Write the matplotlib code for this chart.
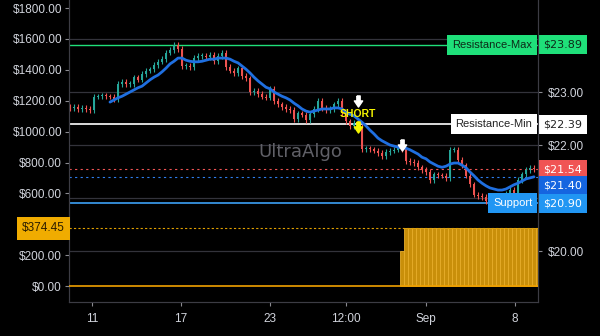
import matplotlib
matplotlib.use("Agg")
import matplotlib.pyplot as plt
from matplotlib.path import Path
import numpy as np

plt.rcParams["font.family"] = ["Liberation Sans", "DejaVu Sans"]

# price candles (close), one bar per slot
closes = [
    22.70, 22.72, 22.68, 22.70, 22.68, 22.66, 22.91, 22.92, 22.94, 22.92,
    22.91, 22.87, 23.15, 23.19, 23.15, 23.15, 23.28, 23.23, 23.34, 23.40,
    23.43, 23.51, 23.57, 23.62, 23.74, 23.79, 23.89, 23.81, 23.49, 23.49,
    23.47, 23.64, 23.68, 23.68, 23.66, 23.70, 23.58, 23.68, 23.74, 23.47,
    23.40, 23.36, 23.45, 23.30, 23.26, 23.00, 23.02, 22.96, 22.91, 22.89,
    23.06, 22.83, 22.77, 22.72, 22.68, 22.66, 22.49, 22.60, 22.57, 22.47,
    22.58, 22.68, 22.83, 22.70, 22.66, 22.68, 22.77, 22.83, 22.60, 22.45,
    22.36, 22.42, 22.34, 21.92, 21.94, 21.92, 21.89, 21.85, 21.79, 21.87,
    21.89, 21.91, 21.94, 21.92, 21.70, 21.68, 21.66, 21.58, 21.53, 21.49,
    21.34, 21.45, 21.43, 21.42, 21.38, 21.91, 21.91, 21.72, 21.62, 21.42,
    21.26, 21.06, 21.04, 21.02, 20.94, 20.92, 20.98, 21.00, 21.04, 21.08,
    21.15, 21.04, 21.34, 21.45, 21.53, 21.57, 21.54]
first_open = 22.72
wick = 0.05

# moving average, starts at bar 10
ma_start = 10
ma = [
    22.81, 22.85, 22.89, 22.92, 22.96, 23.00, 23.04, 23.08, 23.11, 23.17,
    23.23, 23.28, 23.32, 23.38, 23.45, 23.53, 23.58, 23.64, 23.64, 23.60,
    23.58, 23.57, 23.57, 23.58, 23.60, 23.62, 23.62, 23.64, 23.64, 23.64,
    23.62, 23.58, 23.55, 23.49, 23.43, 23.36, 23.28, 23.21, 23.15, 23.09,
    23.06, 23.00, 22.96, 22.92, 22.89, 22.85, 22.79, 22.74, 22.68, 22.64,
    22.62, 22.64, 22.66, 22.68, 22.68, 22.68, 22.70, 22.70, 22.68, 22.62,
    22.58, 22.55, 22.49, 22.43, 22.36, 22.28, 22.21, 22.13, 22.08, 22.04,
    22.00, 21.98, 21.96, 21.94, 21.94, 21.91, 21.87, 21.83, 21.77, 21.74,
    21.68, 21.64, 21.60, 21.58, 21.60, 21.64, 21.66, 21.66, 21.62, 21.57,
    21.49, 21.42, 21.34, 21.28, 21.23, 21.19, 21.17, 21.15, 21.15, 21.17,
    21.21, 21.25, 21.28, 21.32, 21.36, 21.38, 21.40]

# strategy position / equity bars (left axis)
pos_start = 83
pos_values = [225.0] + [374.45] * 35
pos_last = 374.45

res_max = 23.89
res_min = 22.39
support = 20.90
last_price = 21.54
ma_last = 21.40

short_bar = 72
short_arrow_top = 22.83
short_arrow_low = 22.34
short_text_y = 22.58
exit_bar = 83
exit_arrow = 22.00

xtick_pos = [5.5, 27.75, 50, 69, 89, 111.25]
xtick_labels = ["11", "17", "23", "12:00", "Sep", "8"]
left_ticks = [0, 200, 400, 600, 800, 1000, 1200, 1400, 1600, 1800]
left_labels = ["$0.00", "$200.00", "", "$600.00", "$800.00", "$1000.00",
               "$1200.00", "$1400.00", "$1600.00", "$1800.00"]
right_ticks = [20, 21, 22, 23, 24]
right_labels = ["$20.00", "", "$22.00", "$23.00", ""]

BG = "#000000"
TXT = "#d1d4dc"
GRID = "#33333b"
UP = "#26a69a"
DN = "#ef5350"

fig = plt.figure(figsize=(6, 3.36), dpi=100, facecolor=BG)
axe = fig.add_axes([69 / 600, 34 / 336, 469 / 600, 302 / 336])
axp = axe.twinx()
axe.set_zorder(axp.get_zorder() + 1)
axe.patch.set_visible(False)
axp.set_facecolor(BG)

n = len(closes)
x = np.arange(n)
c = np.array(closes)
o = np.concatenate([[first_open], c[:-1]])
hi = np.maximum(o, c) + wick
lo = np.minimum(o, c) - wick
col = np.where(c >= o, UP, DN)

axp.vlines(x, lo, hi, colors=col, linewidth=0.8, zorder=3)
axp.bar(x, np.maximum(np.abs(c - o), 0.02), bottom=np.minimum(o, c), width=0.7,
        color=col, linewidth=0, zorder=3)

ma_x = np.arange(ma_start, ma_start + len(ma))
axp.plot(ma_x, ma, color="#1f6fe0", lw=2.0, zorder=4, solid_capstyle="round")

axp.axhline(res_max, color="#1fe07a", lw=1.0, zorder=2)
axp.axhline(res_min, color="#ffffff", lw=1.2, zorder=2)
axp.axhline(support, color="#3da0f5", lw=1.2, zorder=2)
axp.axhline(last_price, color="#f05454", lw=0.8, ls=(0, (2, 3)), zorder=2)
axp.axhline(ma_last, color="#2f7ff0", lw=0.8, ls=(0, (2, 3)), zorder=2)

# signals
arrow = Path([(-0.3, 1), (0.3, 1), (0.3, 0.1), (0.75, 0.1), (0, -1),
              (-0.75, 0.1), (-0.3, 0.1), (-0.3, 1)])
axp.plot([short_bar, exit_bar], [short_arrow_top, exit_arrow], ls="none",
         marker=arrow, ms=8, color="white", zorder=6)
axp.plot([short_bar], [short_arrow_low], ls="none", marker=arrow, ms=8,
         color="#f5f500", zorder=6)
axp.text(short_bar, short_text_y, "SHORT", color="#f5f500", fontsize=7.5,
         fontweight="bold", ha="center", va="center", zorder=6)

axp.text(0.4925, 0.497, "UltraAlgo", transform=axp.transAxes, color="#606067",
         fontsize=13, family="DejaVu Sans", ha="center", va="center", zorder=2.6)

# position bars
pos_x = np.arange(pos_start, pos_start + len(pos_values))
axe.bar(pos_x, pos_values, width=1.0, color="#c98f0a", edgecolor="#e8ad2a",
        linewidth=0.6, zorder=2)
axe.axhline(0, color="#f0a000", lw=1.2, zorder=3)
axe.axhline(pos_last, color="#e0a000", lw=0.8, ls=(0, (2, 2)), zorder=3)

axe.set_xlim(-0.25, 117)
axe.set_ylim(-103.6, 1852.6)
axp.set_ylim(19.038, 24.736)

axe.set_xticks(xtick_pos)
axe.set_xticklabels(xtick_labels)
axe.set_yticks(left_ticks)
axe.set_yticklabels(left_labels)
axp.set_yticks(right_ticks)
axp.set_yticklabels(right_labels)

axp.grid(True, color=GRID, lw=0.9)
axe.grid(False)
for a in (axe, axp):
    a.tick_params(colors=TXT, labelsize=8.5, length=3, pad=2)
    a.tick_params(axis="both", color="#8a8a90")
    for s in a.spines.values():
        s.set_color("#3c3c44")
    a.spines["top"].set_visible(False)
axp.tick_params(axis="y", pad=4)
axe.tick_params(axis="x", pad=5)

# right-side labels
yt = axp.get_yaxis_transform()
def rlabel(val, text, fc, tc, dy=0):
    axp.annotate(text, xy=(1, val), xycoords=yt, xytext=(4, dy),
                 textcoords="offset points", ha="left", va="center", fontsize=8,
                 family="DejaVu Sans", color=tc, annotation_clip=False, zorder=10,
                 bbox=dict(boxstyle="square,pad=0.4", fc=fc, ec="none"))

def inlabel(val, text, fc, tc):
    axp.annotate(text, xy=(1, val), xycoords=yt, xytext=(-4, 0),
                 textcoords="offset points", ha="right", va="center", fontsize=8,
                 color=tc, annotation_clip=False, zorder=10,
                 bbox=dict(boxstyle="square,pad=0.45", fc=fc, ec="none"))

inlabel(res_max, "Resistance-Max", "#1fe07a", "#0d2a18")
rlabel(res_max, f"${res_max:.2f}", "#1fe07a", "#0d2a18")
inlabel(res_min, "Resistance-Min", "#ffffff", "#222222")
rlabel(res_min, f"${res_min:.2f}", "#ffffff", "#222222")
rlabel(last_price, f"${last_price:.2f}", "#f05454", "white")
rlabel(ma_last, f"${ma_last:.2f}", "#1565e0", "white", dy=-6.5)
inlabel(support, "Support", "#2196f3", "white")
rlabel(support, f"${support:.2f}", "#2196f3", "white")

axe.annotate(f"${pos_last:.2f}", xy=(0, pos_last), xycoords=axe.get_yaxis_transform(),
             xytext=(-3, 0), textcoords="offset points", ha="right", va="center",
             fontsize=8.5, color="#2a1d00", annotation_clip=False, zorder=10,
             bbox=dict(boxstyle="square,pad=0.45", fc="#f0ac00", ec="none"))

fig.savefig("out.png", dpi=100, facecolor=BG)
